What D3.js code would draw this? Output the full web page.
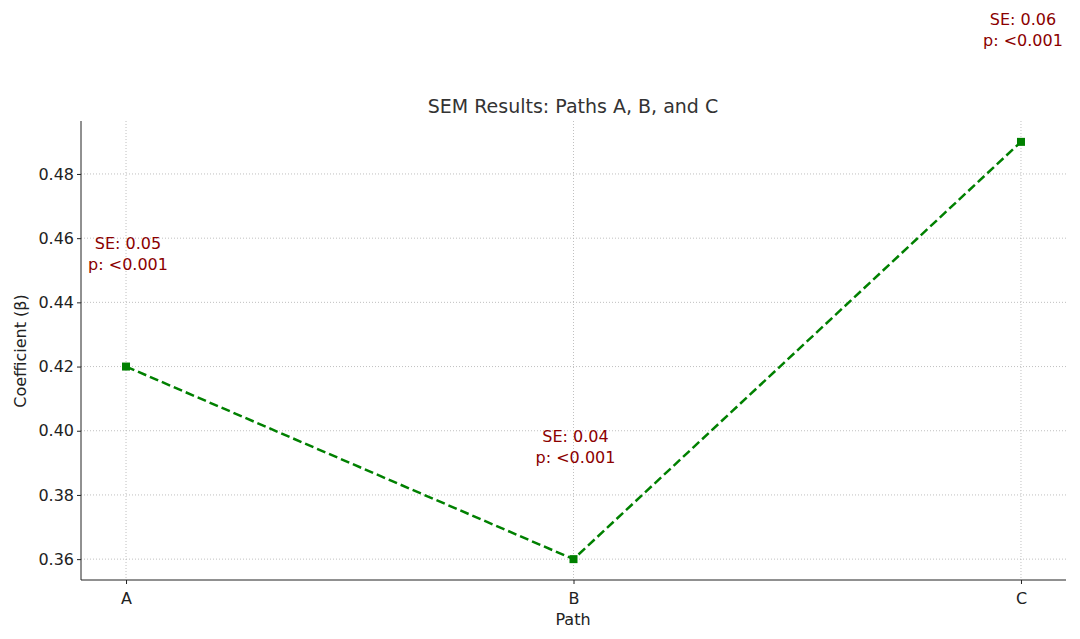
<!DOCTYPE html><html><head><meta charset="utf-8">
<script src="https://cdn.jsdelivr.net/npm/d3@7"></script>
<style>body{margin:0;background:#fff}text{font-family:"DejaVu Sans",sans-serif}</style></head><body>
<svg id="c" width="1080" height="639"></svg>
<script>
const paths=["A","B","C"];
const coefs=[0.42,0.36,0.49];
const ses=["0.05","0.04","0.06"];
const pvals=["<0.001","<0.001","<0.001"];
const yTicks=[0.36,0.38,0.40,0.42,0.44,0.46,0.48];
const svg=d3.select("#c");
const L=81,R=1066,T=121,B=580;
const x=d3.scaleLinear().domain([-0.1006,2.1006]).range([L,R]);
const y=d3.scaleLinear().domain([0.3535,0.4965]).range([B,T]);
const g=svg.append("g");
// grid
g.selectAll(".gy").data(yTicks).enter().append("line").attr("x1",L).attr("x2",R).attr("y1",d=>y(d)).attr("y2",d=>y(d)).attr("stroke","#b0b0b0").attr("stroke-width",0.8).attr("stroke-dasharray","1,2");
g.selectAll(".gx").data(paths).enter().append("line").attr("x1",(d,i)=>x(i)).attr("x2",(d,i)=>x(i)).attr("y1",T).attr("y2",B).attr("stroke","#b0b0b0").attr("stroke-width",0.8).attr("stroke-dasharray","1,2");
// axes
const ya=svg.append("g").attr("transform",`translate(${L},0)`).call(d3.axisLeft(y).tickValues(yTicks).tickFormat(d3.format(".2f")).tickSize(4).tickSizeOuter(0));
const xa=svg.append("g").attr("transform",`translate(0,${B})`).call(d3.axisBottom(x).tickValues([0,1,2]).tickFormat(i=>paths[i]).tickSize(4).tickSizeOuter(0));
[ya,xa].forEach(a=>{a.selectAll("text").attr("font-size",16).attr("fill","#222");a.select(".domain").remove();a.selectAll("line").attr("stroke","#222");});
xa.selectAll("text").attr("dy","1.05em");
svg.append("line").attr("x1",L).attr("x2",L).attr("y1",T).attr("y2",B).attr("stroke","#222");
svg.append("line").attr("x1",L).attr("x2",R).attr("y1",B).attr("y2",B).attr("stroke","#222");
// line
svg.append("path").datum(coefs).attr("d",d3.line().x((d,i)=>x(i)).y(d=>y(d))).attr("fill","none").attr("stroke","#008000").attr("stroke-width",2.5).attr("stroke-dasharray","9,4");
svg.selectAll(".m").data(coefs).enter().append("rect").attr("x",(d,i)=>x(i)-4).attr("y",d=>y(d)-4).attr("width",8).attr("height",8).attr("fill","#008000");
// annotations
coefs.forEach((d,i)=>{
 const t=svg.append("text").attr("x",x(i)+2).attr("y",y(d+0.03)).attr("text-anchor","middle").attr("font-size",16).attr("fill","#8b0000");
 t.append("tspan").attr("x",x(i)+2).attr("dy","-1.3em").text("SE: "+ses[i]);
 t.append("tspan").attr("x",x(i)+2).attr("dy","1.3em").text("p: "+pvals[i]);
});
svg.append("text").attr("x",573).attr("y",113).attr("text-anchor","middle").attr("font-size",19).attr("fill","#333").text("SEM Results: Paths A, B, and C");
svg.append("text").attr("x",573).attr("y",625).attr("text-anchor","middle").attr("font-size",16).attr("fill","#222").text("Path");
svg.append("text").attr("transform","translate(26,351) rotate(-90)").attr("text-anchor","middle").attr("font-size",16).attr("fill","#222").text("Coefficient (β)");
</script></body></html>
